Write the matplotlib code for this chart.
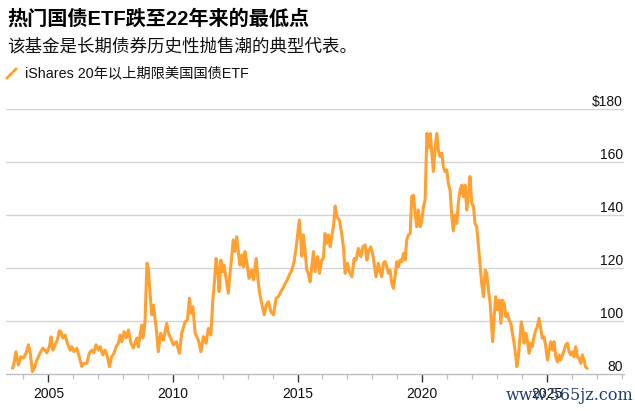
import numpy as np
import matplotlib
matplotlib.use("Agg")
import matplotlib.pyplot as plt
from matplotlib.ticker import MultipleLocator
from matplotlib.lines import Line2D

plt.rcParams['font.family'] = ['Liberation Sans', 'Noto Sans CJK SC', 'DejaVu Sans']

# chart texts
title = '热门国债ETF跌至22年来的最低点'
subtitle = '该基金是长期债券历史性抛售潮的典型代表。'
series_name = 'iShares 20年以上期限美国国债ETF'

# price of the ETF (decimal year, USD)
years = [
    2003.57, 2003.62, 2003.70, 2003.80, 2003.89, 2004.00, 2004.11, 2004.20, 2004.27, 2004.36,
    2004.44, 2004.54, 2004.67, 2004.78, 2004.87, 2004.94, 2005.04, 2005.11, 2005.18, 2005.27,
    2005.36, 2005.44, 2005.50, 2005.58, 2005.67, 2005.76, 2005.87, 2005.94, 2006.03, 2006.14,
    2006.24, 2006.34, 2006.43, 2006.54, 2006.65, 2006.74, 2006.83, 2006.91, 2007.01, 2007.08,
    2007.18, 2007.28, 2007.37, 2007.45, 2007.54, 2007.64, 2007.72, 2007.81, 2007.88, 2007.95,
    2008.04, 2008.12, 2008.21, 2008.31, 2008.41, 2008.48, 2008.55, 2008.61, 2008.68, 2008.75,
    2008.79, 2008.84, 2008.88, 2008.92, 2008.96, 2009.01, 2009.08, 2009.15, 2009.21, 2009.28,
    2009.35, 2009.41, 2009.51, 2009.62, 2009.75, 2009.82, 2009.91, 2010.02, 2010.13, 2010.26,
    2010.35, 2010.49, 2010.58, 2010.66, 2010.72, 2010.80, 2010.89, 2011.02, 2011.12, 2011.22,
    2011.33, 2011.42, 2011.52, 2011.60, 2011.66, 2011.73, 2011.80, 2011.85, 2011.92, 2012.00,
    2012.05, 2012.13, 2012.22, 2012.29, 2012.36, 2012.42, 2012.49, 2012.56, 2012.63, 2012.69,
    2012.76, 2012.83, 2012.89, 2012.96, 2013.05, 2013.16, 2013.23, 2013.34, 2013.40, 2013.47,
    2013.56, 2013.66, 2013.74, 2013.83, 2013.93, 2014.03, 2014.14, 2014.23, 2014.33, 2014.41,
    2014.50, 2014.59, 2014.67, 2014.77, 2014.86, 2014.94, 2015.01, 2015.07, 2015.13, 2015.17,
    2015.23, 2015.30, 2015.37, 2015.43, 2015.50, 2015.57, 2015.64, 2015.70, 2015.80, 2015.88,
    2015.97, 2016.04, 2016.10, 2016.17, 2016.24, 2016.31, 2016.37, 2016.44, 2016.51, 2016.57,
    2016.68, 2016.77, 2016.84, 2016.91, 2017.00, 2017.08, 2017.18, 2017.27, 2017.35, 2017.44,
    2017.54, 2017.62, 2017.71, 2017.78, 2017.84, 2017.94, 2018.02, 2018.07, 2018.15, 2018.24,
    2018.31, 2018.38, 2018.44, 2018.51, 2018.58, 2018.65, 2018.71, 2018.78, 2018.85, 2018.91,
    2018.98, 2019.05, 2019.11, 2019.18, 2019.25, 2019.32, 2019.38, 2019.45, 2019.52, 2019.58,
    2019.65, 2019.72, 2019.78, 2019.85, 2019.92, 2019.99, 2020.05, 2020.12, 2020.19, 2020.25,
    2020.32, 2020.39, 2020.45, 2020.52, 2020.59, 2020.65, 2020.72, 2020.79, 2020.85, 2020.92,
    2020.99, 2021.05, 2021.12, 2021.19, 2021.25, 2021.32, 2021.39, 2021.45, 2021.52, 2021.59,
    2021.65, 2021.72, 2021.79, 2021.86, 2021.92, 2021.99, 2022.06, 2022.12, 2022.19, 2022.26,
    2022.32, 2022.39, 2022.46, 2022.53, 2022.59, 2022.66, 2022.73, 2022.79, 2022.83, 2022.89,
    2022.95, 2023.02, 2023.09, 2023.16, 2023.22, 2023.29, 2023.36, 2023.42, 2023.49, 2023.56,
    2023.62, 2023.69, 2023.76, 2023.80, 2023.86, 2023.93, 2023.98, 2024.04, 2024.09, 2024.16,
    2024.22, 2024.29, 2024.36, 2024.42, 2024.49, 2024.56, 2024.62, 2024.69, 2024.76, 2024.82,
    2024.89, 2024.96, 2025.03, 2025.09, 2025.16, 2025.23, 2025.29, 2025.36, 2025.43, 2025.49,
    2025.56, 2025.63, 2025.70, 2025.76, 2025.83, 2025.90, 2025.96, 2026.03, 2026.10, 2026.16,
    2026.23, 2026.30, 2026.37, 2026.43, 2026.50, 2026.55, 2026.61,
]
prices = [
    82.3, 84.0, 88.4, 83.4, 86.5, 86.0, 88.0, 91.0, 88.0, 80.9,
    82.3, 85.3, 88.0, 89.8, 89.0, 88.0, 90.3, 94.0, 89.0, 91.0,
    92.8, 96.3, 96.0, 93.6, 94.7, 91.7, 89.0, 90.3, 88.4, 89.7,
    86.5, 82.8, 84.0, 84.0, 88.0, 89.0, 88.0, 91.0, 89.0, 90.3,
    87.2, 89.0, 86.5, 82.8, 86.5, 88.0, 90.3, 91.7, 94.7, 92.2,
    96.0, 93.6, 96.6, 91.7, 89.8, 91.7, 93.6, 90.3, 94.7, 98.5,
    93.6, 96.6, 99.7, 111.7, 121.8, 119.9, 110.5, 102.3, 106.0, 101.0,
    95.4, 88.4, 95.4, 92.8, 99.1, 95.4, 93.5, 91.0, 92.2, 87.8,
    95.4, 99.7, 100.4, 108.6, 102.9, 105.4, 95.4, 92.8, 88.4, 94.1,
    91.6, 97.2, 94.7, 107.9, 114.2, 123.6, 119.2, 111.1, 123.0, 118.6,
    121.1, 116.1, 110.5, 118.0, 124.3, 130.6, 126.2, 131.8, 125.5, 121.1,
    124.9, 120.5, 126.2, 122.4, 116.1, 119.2, 115.5, 123.6, 116.7, 111.1,
    106.7, 102.3, 106.0, 107.3, 103.5, 102.3, 108.6, 109.2, 111.1, 112.3,
    114.2, 115.5, 117.4, 119.2, 122.4, 127.4, 133.0, 138.1, 130.6, 124.5,
    132.5, 126.8, 119.2, 118.0, 114.8, 120.5, 126.2, 118.6, 124.3, 118.0,
    123.0, 123.8, 133.0, 129.3, 132.5, 128.0, 131.8, 135.6, 143.4, 139.4,
    138.1, 133.0, 128.0, 118.0, 121.8, 118.6, 116.7, 123.6, 123.0, 127.4,
    124.3, 128.0, 128.7, 123.0, 126.2, 128.0, 124.9, 121.8, 116.7, 121.8,
    118.6, 116.7, 121.8, 122.4, 120.5, 118.0, 119.2, 114.2, 112.3, 116.7,
    122.4, 120.5, 123.0, 122.4, 125.5, 123.0, 130.6, 132.5, 133.0, 146.9,
    147.5, 140.6, 135.6, 141.9, 135.6, 138.0, 143.1, 145.7, 170.8, 165.2,
    170.8, 163.3, 156.4, 165.2, 170.8, 164.5, 162.0, 163.3, 158.2, 156.4,
    157.0, 152.0, 149.4, 139.4, 134.0, 140.0, 136.8, 144.4, 149.4, 151.3,
    146.9, 151.3, 141.9, 148.2, 154.5, 144.4, 143.1, 136.8, 135.6, 128.0,
    121.8, 114.2, 109.2, 119.2, 118.0, 111.7, 106.7, 97.8, 92.2, 101.6,
    109.2, 104.2, 107.9, 99.1, 107.9, 106.7, 101.6, 102.9, 100.4, 99.1,
    95.4, 91.6, 86.5, 82.8, 86.5, 94.1, 99.7, 96.6, 91.6, 95.4,
    92.8, 87.8, 91.6, 90.3, 94.1, 96.6, 97.8, 101.0, 97.2, 93.5,
    94.1, 90.3, 85.3, 88.4, 92.2, 89.0, 92.2, 86.5, 84.6, 87.2,
    85.3, 87.2, 89.0, 91.0, 91.6, 88.4, 87.2, 88.4, 86.5, 90.3,
    86.5, 85.9, 84.0, 87.2, 85.3, 82.8, 82.2,
]

# axis ticks
y_ticks = [80, 100, 120, 140, 160, 180]
y_labels = ['80', '100', '120', '140', '160', '$180']
x_major = [2005, 2010, 2015, 2020, 2025]

line_color = '#ffa030'
grid_color = '#d4d4d4'

fig = plt.figure(figsize=(6.35, 4.11), dpi=100, facecolor='white')
W, H = 635, 411
ax = fig.add_axes([6 / W, 1 - 374 / H, 618 / W, 265 / H])

ax.plot(years, prices, color=line_color, lw=2.2, solid_joinstyle='round', zorder=3)

ax.set_xlim(2003.30, 2028.10)
ax.set_ylim(80, 180)

# horizontal grid lines with labels sitting on top of them at the right
for v, lab in zip(y_ticks, y_labels):
    if v > 80:
        ax.axhline(v, color=grid_color, lw=1.0, zorder=1)
    ax.text(0.998, v, lab, transform=ax.get_yaxis_transform(), ha='right', va='bottom',
            fontsize=10, color='#111111')
ax.set_yticks([])

for s in ['top', 'right', 'left']:
    ax.spines[s].set_visible(False)
ax.spines['bottom'].set_color('#bdbdbd')
ax.spines['bottom'].set_linewidth(1.0)

ax.set_xticks(x_major)
ax.set_xticklabels([str(y) for y in x_major], fontsize=10, color='#111111')
ax.xaxis.set_minor_locator(MultipleLocator(1))
ax.tick_params(axis='x', which='major', length=6, width=1.0, color='#333333', pad=3)
ax.tick_params(axis='x', which='minor', length=3.5, width=0.9, color='#bdbdbd')

# header texts
fig.text(7 / W, 1 - 19 / H, title, fontsize=14.5, fontweight='bold', color='#000000',
         ha='left', va='center')
fig.text(7 / W, 1 - 46 / H, subtitle, fontsize=12.6, color='#111111', ha='left', va='center')

# legend: short diagonal stroke + label
fig.add_artist(Line2D([7 / W, 16 / W], [1 - 78 / H, 1 - 69 / H], color=line_color, lw=2.0,
                      transform=fig.transFigure))
fig.text(25 / W, 1 - 73 / H, series_name, fontsize=10.3, color='#111111', ha='left', va='center')

# watermark seen in the picture
fig.text(570 / W, 1 - 395 / H, 'www.565jz.com', fontsize=11.5, color='#1f3d7a',
         family='DejaVu Serif', ha='center', va='center')

fig.savefig('out.png', dpi=100, facecolor='white')
